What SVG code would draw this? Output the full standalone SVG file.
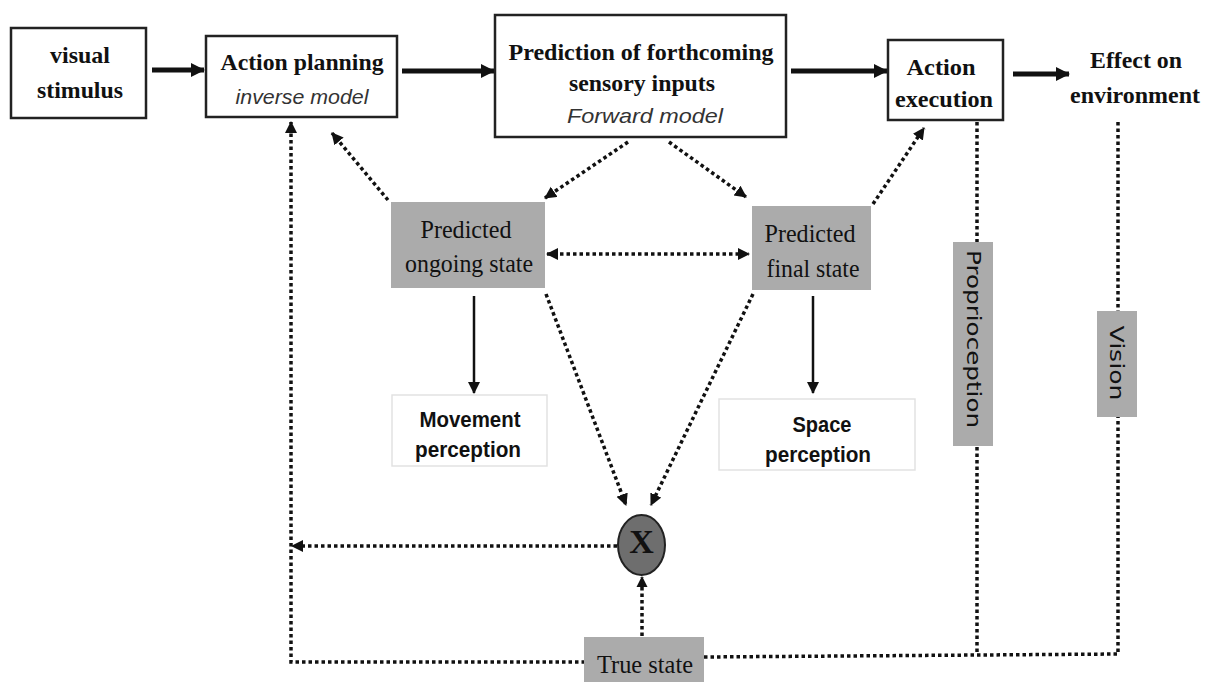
<svg xmlns="http://www.w3.org/2000/svg" width="1211" height="682" viewBox="0 0 1211 682">
<style>
.box{fill:#fff;stroke:#222;stroke-width:2.5}
.lbox{fill:#fff;stroke:#e2e2e2;stroke-width:1.5}
.gbox{fill:#ababab;stroke:none}
.tb{font-family:"Liberation Serif",serif;font-weight:bold;font-size:24px;fill:#111;text-anchor:middle}
.tx{font-family:"Liberation Serif",serif;font-weight:bold;font-size:34px;fill:#111;text-anchor:middle}
.ti{font-family:"Liberation Sans",sans-serif;font-style:italic;font-size:21px;fill:#333;text-anchor:middle}
.tr{font-family:"Liberation Serif",serif;font-size:25px;fill:#111;text-anchor:middle}
.ts{font-family:"Liberation Sans",sans-serif;font-weight:bold;font-size:22px;fill:#111;text-anchor:middle}
.tv{font-family:"DejaVu Sans",sans-serif;font-size:19px;fill:#111;text-anchor:middle}
.thick{stroke:#111;stroke-width:5;fill:none}
.solid{stroke:#111;stroke-width:2.5;fill:none}
.dot{stroke:#111;stroke-width:3.5;stroke-dasharray:3.5 3;fill:none}
</style>
<defs>
<marker id="big" markerWidth="16" markerHeight="16" refX="13" refY="8" orient="auto" markerUnits="userSpaceOnUse">
<path d="M0,1 L14,8 L0,15 Z" fill="#111"/>
</marker>
<marker id="sm" markerWidth="14" markerHeight="14" refX="11" refY="6" orient="auto" markerUnits="userSpaceOnUse">
<path d="M0,0 L12,6 L0,12 Z" fill="#111"/>
</marker>
<marker id="sm2" markerWidth="14" markerHeight="14" refX="11" refY="6" orient="auto-start-reverse" markerUnits="userSpaceOnUse">
<path d="M0,0 L12,6 L0,12 Z" fill="#111"/>
</marker>
<marker id="tip" markerWidth="12" markerHeight="12" refX="10" refY="6" orient="auto" markerUnits="userSpaceOnUse">
<path d="M0,0.5 L11,6 L0,11.5 Z" fill="#111"/>
</marker>
</defs>

<g id="connectors">
<line class="thick" x1="152" y1="70" x2="204" y2="70" marker-end="url(#big)"/>
<line class="thick" x1="402" y1="71" x2="494" y2="71" marker-end="url(#big)"/>
<line class="thick" x1="791" y1="71" x2="887" y2="71" marker-end="url(#big)"/>
<line class="thick" x1="1013" y1="74" x2="1069" y2="74" marker-end="url(#big)"/>
<line class="dot" x1="388" y1="200" x2="332" y2="133" marker-end="url(#sm)"/>
<polyline class="dot" points="585,662 291,662 291,122" marker-end="url(#sm)"/>
<line class="dot" x1="628" y1="142" x2="545" y2="198" marker-end="url(#sm)"/>
<line class="dot" x1="669" y1="142" x2="746" y2="197" marker-end="url(#sm)"/>
<line class="dot" x1="873" y1="204" x2="924" y2="128" marker-end="url(#sm)"/>
<line class="dot" x1="547" y1="254" x2="749" y2="254" marker-start="url(#sm2)" marker-end="url(#sm2)"/>
<line class="dot" x1="546" y1="294" x2="626" y2="505" marker-end="url(#sm)"/>
<line class="dot" x1="753" y1="294" x2="651" y2="505" marker-end="url(#sm)"/>
<line class="dot" x1="617" y1="546" x2="292" y2="546" marker-end="url(#sm)"/>
<line class="dot" x1="642" y1="636" x2="642" y2="577" marker-end="url(#tip)"/>
<line class="dot" x1="977" y1="122" x2="977" y2="655"/>
<polyline class="dot" points="1118,122 1118,654 704,657"/>
<line class="solid" x1="474" y1="296" x2="474" y2="393" marker-end="url(#sm)"/>
<line class="solid" x1="813" y1="296" x2="813" y2="393" marker-end="url(#sm)"/>
</g>

<g id="visual-stimulus">
<rect class="box" x="11" y="28" width="135" height="90"/>
<text class="tb" x="80" y="63" textLength="60" lengthAdjust="spacingAndGlyphs">visual</text>
<text class="tb" x="80" y="98" textLength="86" lengthAdjust="spacingAndGlyphs">stimulus</text>
</g>

<g id="action-planning">
<rect class="box" x="206" y="36" width="191" height="81"/>
<text class="tb" x="302" y="70" textLength="163" lengthAdjust="spacingAndGlyphs">Action planning</text>
<text class="ti" x="302" y="104" textLength="133" lengthAdjust="spacingAndGlyphs">inverse model</text>
</g>

<g id="prediction">
<rect class="box" x="495" y="15" width="291" height="122"/>
<text class="tb" x="641" y="60" textLength="265" lengthAdjust="spacingAndGlyphs">Prediction of forthcoming</text>
<text class="tb" x="642" y="91" textLength="146" lengthAdjust="spacingAndGlyphs">sensory inputs</text>
<text class="ti" x="645" y="123" textLength="156" lengthAdjust="spacingAndGlyphs">Forward model</text>
</g>

<g id="action-execution">
<rect class="box" x="888" y="40" width="115" height="80"/>
<text class="tb" x="941" y="75" textLength="69" lengthAdjust="spacingAndGlyphs">Action</text>
<text class="tb" x="944" y="107" textLength="98" lengthAdjust="spacingAndGlyphs">execution</text>
</g>

<g id="effect-environment">
<text class="tb" x="1136" y="68" textLength="92" lengthAdjust="spacingAndGlyphs">Effect on</text>
<text class="tb" x="1135" y="103" textLength="130" lengthAdjust="spacingAndGlyphs">environment</text>
</g>

<g id="predicted-ongoing">
<rect class="gbox" x="391" y="202" width="154" height="86"/>
<text class="tr" x="466" y="238" textLength="91" lengthAdjust="spacingAndGlyphs">Predicted</text>
<text class="tr" x="469" y="272" textLength="128" lengthAdjust="spacingAndGlyphs">ongoing state</text>
</g>

<g id="predicted-final">
<rect class="gbox" x="752" y="206" width="119" height="84"/>
<text class="tr" x="810" y="242" textLength="91" lengthAdjust="spacingAndGlyphs">Predicted</text>
<text class="tr" x="813" y="277" textLength="93" lengthAdjust="spacingAndGlyphs">final state</text>
</g>

<g id="movement-perception">
<rect class="lbox" x="392" y="395" width="155" height="71"/>
<text class="ts" x="470" y="427" textLength="101" lengthAdjust="spacingAndGlyphs">Movement</text>
<text class="ts" x="468" y="457" textLength="106" lengthAdjust="spacingAndGlyphs">perception</text>
</g>

<g id="space-perception">
<rect class="lbox" x="719" y="399" width="196" height="71"/>
<text class="ts" x="822" y="432" textLength="59" lengthAdjust="spacingAndGlyphs">Space</text>
<text class="ts" x="818" y="462" textLength="106" lengthAdjust="spacingAndGlyphs">perception</text>
</g>

<g id="proprioception">
<rect class="gbox" x="953" y="242" width="40" height="204" fill="#b0b0b0"/>
<text class="tv" transform="translate(967,339) rotate(90)" x="0" y="0" textLength="178" lengthAdjust="spacingAndGlyphs">Proprioception</text>
</g>

<g id="vision">
<rect class="gbox" x="1097" y="311" width="40" height="106"/>
<text class="tv" transform="translate(1110,363) rotate(90)" x="0" y="0" textLength="75" lengthAdjust="spacingAndGlyphs">Vision</text>
</g>

<g id="comparator">
<ellipse cx="641.5" cy="545" rx="23.5" ry="30" fill="#6e6e6e" stroke="#222" stroke-width="2"/>
<text class="tx" x="641.5" y="553">X</text>
</g>

<g id="true-state">
<rect class="gbox" x="584" y="637" width="120" height="45" fill="#b3b3b3"/>
<text class="tr" x="645" y="673" textLength="96" lengthAdjust="spacingAndGlyphs">True state</text>
</g>
</svg>
